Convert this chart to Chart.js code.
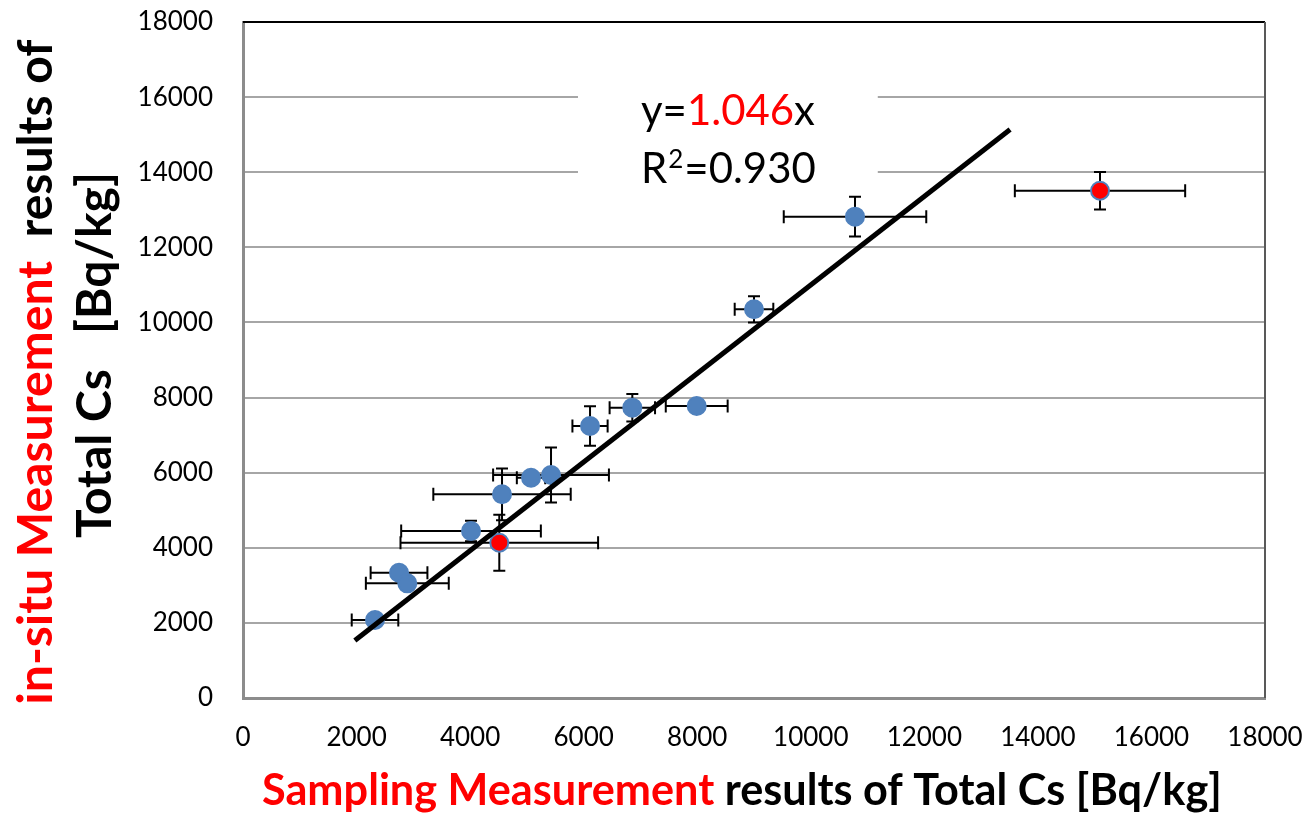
<!DOCTYPE html>
<html>
<head>
<meta charset="utf-8">
<script src="https://cdn.jsdelivr.net/npm/chart.js@4.4.1/dist/chart.umd.min.js"></script>
<style>
    html, body { margin: 0; padding: 0; background: #fff; }
    #wrap { width: 1307px; height: 820px; }
</style>
</head>
<body>
<div id="wrap"><canvas id="c" width="1307" height="820"></canvas></div>
<script>
// Values
const sampleX    = [2325, 2748, 2894, 4016, 4514, 4562, 5073, 5425, 6112, 6857, 7991, 9000, 10779, 15094];
const insituY    = [2077, 3336, 3054, 4447, 4135, 5424, 5866, 5938, 7243, 7730, 7775, 10350, 12816, 13508];
const sampleXErr = [410, 500, 730, 1230, 1740, 1210, 250, 1020, 310, 400, 545, 340, 1255, 1500];
const insituYErr = [150, 150, 150, 275, 745, 690, 150, 735, 525, 365, 150, 350, 530, 500];
const highlighted = [false, false, false, false, true, false, false, false, false, false, false, false, false, true];

// Regression line as drawn
const fitX = [1970, 13510];
const fitY = [1530, 15140];

const axisMin = 0;
const axisMax = 18000;
const axisStep = 2000;

const slopeText = "1.046";
const r2Text = "0.930";

const FONT = "Lato, 'Open Sans', sans-serif";
const BLUE = "#4f81bd";
const RED = "#ff0000";

// Scale a font so the given runs of text fill a target width
function fitSize(ctx, parts, weight, target) {
    ctx.font = weight + " 100px " + FONT;
    const w = parts.reduce((s, p) => s + ctx.measureText(p.text).width, 0);
    return 100 * target / w;
}

function drawRuns(ctx, parts, x, y, size, weight) {
    ctx.font = weight + " " + size + "px " + FONT;
    let cx = x;
    parts.forEach((p) => {
        ctx.fillStyle = p.color;
        ctx.fillText(p.text, cx, y);
        cx += ctx.measureText(p.text).width;
    });
    return cx;
}

function runsWidth(ctx, parts, size, weight) {
    ctx.font = weight + " " + size + "px " + FONT;
    return parts.reduce((s, p) => s + ctx.measureText(p.text).width, 0);
}

const errorBars = {
    id: "errorBars",
    beforeDatasetsDraw(chart) {
        const { ctx, scales: { x, y } } = chart;

        // white box behind the equation
        ctx.save();
        ctx.fillStyle = "#fff";
        const bx0 = x.getPixelForValue(5900), bx1 = x.getPixelForValue(11180);
        const by0 = y.getPixelForValue(16560), by1 = y.getPixelForValue(13480);
        ctx.fillRect(bx0, by0, bx1 - bx0, by1 - by0);
        ctx.restore();

        ctx.save();
        ctx.strokeStyle = "#000";
        ctx.lineWidth = 2;
        const capX = 6.5, capY = 6;
        for (let i = 0; i < sampleX.length; i++) {
            const px = x.getPixelForValue(sampleX[i]);
            const py = y.getPixelForValue(insituY[i]);
            const xl = x.getPixelForValue(sampleX[i] - sampleXErr[i]);
            const xr = x.getPixelForValue(sampleX[i] + sampleXErr[i]);
            const yt = y.getPixelForValue(insituY[i] + insituYErr[i]);
            const yb = y.getPixelForValue(insituY[i] - insituYErr[i]);
            ctx.beginPath();
            ctx.moveTo(xl, py); ctx.lineTo(xr, py);
            ctx.moveTo(xl, py - capX); ctx.lineTo(xl, py + capX);
            ctx.moveTo(xr, py - capX); ctx.lineTo(xr, py + capX);
            ctx.moveTo(px, yt); ctx.lineTo(px, yb);
            ctx.moveTo(px - capY, yt); ctx.lineTo(px + capY, yt);
            ctx.moveTo(px - capY, yb); ctx.lineTo(px + capY, yb);
            ctx.stroke();
        }
        ctx.restore();
    },
    afterDraw(chart) {
        const { ctx, chartArea: a, scales: { x, y } } = chart;
        ctx.save();

        // plot frame (top and right)
        ctx.strokeStyle = "#000";
        ctx.lineWidth = 2;
        ctx.beginPath();
        ctx.moveTo(a.left, a.top); ctx.lineTo(a.right, a.top);
        ctx.stroke();
        ctx.strokeStyle = "#595959";
        ctx.beginPath();
        ctx.moveTo(a.right, a.top); ctx.lineTo(a.right, a.bottom);
        ctx.stroke();

        // equation
        ctx.textBaseline = "alphabetic";
        const eq = [
            { text: "y=", color: "#000" },
            { text: slopeText, color: RED },
            { text: "x", color: "#000" },
        ];
        const eqSize = fitSize(ctx, eq, "normal", 174);
        const ex = x.getPixelForValue(7010);
        drawRuns(ctx, eq, ex, y.getPixelForValue(15257), eqSize, "normal");
        const by = y.getPixelForValue(13713);
        let cx = drawRuns(ctx, [{ text: "R", color: "#000" }], ex, by, eqSize, "normal");
        cx = drawRuns(ctx, [{ text: "2", color: "#000" }], cx + 1, by - eqSize * 0.36, eqSize * 0.62, "normal");
        drawRuns(ctx, [{ text: "=" + r2Text, color: "#000" }], cx + 1, by, eqSize, "normal");

        // x axis title
        const xt = [
            { text: "Sampling Measurement", color: RED },
            { text: " results of Total Cs [Bq/kg]", color: "#000" },
        ];
        const xtSize = fitSize(ctx, xt, "bold", 960);
        drawRuns(ctx, xt, 262, 805, xtSize, "bold");

        // y axis title, two rotated lines
        const yt1 = [
            { text: "in-situ Measurement", color: RED },
            { text: "  results of", color: "#000" },
        ];
        const yt2 = [{ text: "Total Cs   [Bq/kg]", color: "#000" }];
        const ytSize = fitSize(ctx, yt1, "bold", 665);
        ctx.save();
        ctx.translate(52, 372);
        ctx.rotate(-Math.PI / 2);
        drawRuns(ctx, yt1, -runsWidth(ctx, yt1, ytSize, "bold") / 2, 0, ytSize, "bold");
        ctx.restore();
        ctx.save();
        ctx.translate(111, 355);
        ctx.rotate(-Math.PI / 2);
        drawRuns(ctx, yt2, -runsWidth(ctx, yt2, ytSize, "bold") / 2, 0, ytSize, "bold");
        ctx.restore();

        ctx.restore();
    },
};

new Chart(document.getElementById("c"), {
    type: "scatter",
    data: {
        datasets: [
            {
                label: "fit",
                data: fitX.map((v, i) => ({ x: v, y: fitY[i] })),
                showLine: true,
                borderColor: "#000",
                borderWidth: 5,
                pointRadius: 0,
                order: 0,
            },
            {
                label: "measurements",
                data: sampleX.map((v, i) => ({ x: v, y: insituY[i] })),
                pointRadius: 9,
                pointBackgroundColor: highlighted.map((h) => (h ? RED : BLUE)),
                pointBorderColor: BLUE,
                pointBorderWidth: 2,
                order: 1,
            },
        ],
    },
    options: {
        responsive: false,
        animation: false,
        layout: { padding: { top: 22, right: 42, left: 0, bottom: 0 } },
        plugins: {
            legend: { display: false },
            tooltip: { enabled: false },
        },
        scales: {
            x: {
                type: "linear",
                min: axisMin,
                max: axisMax,
                ticks: {
                    stepSize: axisStep,
                    autoSkip: false,
                    maxRotation: 0,
                    padding: 24,
                    color: "#000",
                    font: { family: FONT, size: 26 },
                    callback: (v) => String(v),
                },
                grid: { display: false, drawTicks: false },
                border: { display: true, color: "#8c8c8c", width: 3 },
                afterFit(scale) {
                    scale.height = 122;
                    scale.paddingLeft = 0;
                    scale.paddingRight = 0;
                },
            },
            y: {
                type: "linear",
                min: axisMin,
                max: axisMax,
                ticks: {
                    stepSize: axisStep,
                    autoSkip: false,
                    padding: 30,
                    color: "#000",
                    font: { family: FONT, size: 26 },
                    callback: (v) => String(v),
                },
                grid: { color: "#a6a6a6", lineWidth: 2, drawTicks: false },
                border: { display: true, color: "#8c8c8c", width: 3 },
                afterFit(scale) {
                    scale.width = 243;
                    scale.paddingTop = 0;
                    scale.paddingBottom = 0;
                },
            },
        },
    },
    plugins: [errorBars],
});
</script>
</body>
</html>
